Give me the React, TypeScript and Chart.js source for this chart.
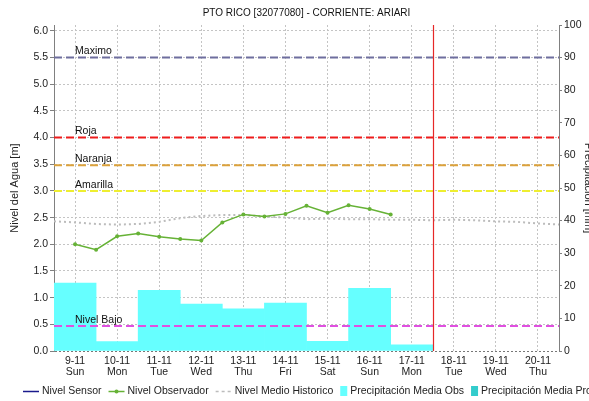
import React, { useEffect, useRef } from 'react';
import { Chart, registerables } from 'chart.js';

Chart.register(...registerables);

const TITLE = 'PTO RICO [32077080] - CORRIENTE: ARIARI';
const Y_TITLE = 'Nivel del Agua [m]';
const Y2_TITLE = 'Precipitación [mm]';

const DAYS = ['9-11', '10-11', '11-11', '12-11', '13-11', '14-11', '15-11', '16-11', '17-11', '18-11', '19-11', '20-11'];
const WEEKDAYS = ['Sun', 'Mon', 'Tue', 'Wed', 'Thu', 'Fri', 'Sat', 'Sun', 'Mon', 'Tue', 'Wed', 'Thu'];

// Precipitación Media Obs [mm] per day
const PRECIP_OBS = [20.8, 2.9, 18.6, 14.4, 12.9, 14.7, 3.0, 19.2, 1.9, null, null, null];

// Nivel Observador (two readings a day), x in days from start of 9-11
const OBS_X = [0.5, 1.0, 1.5, 2.0, 2.5, 3.0, 3.5, 4.0, 4.5, 5.0, 5.5, 6.0, 6.5, 7.0, 7.5, 8.0];
const OBS_LEVEL = [2.0, 1.9, 2.15, 2.2, 2.14, 2.1, 2.07, 2.41, 2.56, 2.52, 2.57, 2.72, 2.59, 2.73, 2.66, 2.56];

// Nivel Medio Historico
const HIST_X = [0, 0.5, 1, 1.5, 2, 2.5, 3, 3.5, 4, 4.5, 5, 5.5, 6, 6.5, 7, 7.5, 8, 8.5, 9, 9.5, 10, 10.5, 11, 11.5, 12];
const HIST_LEVEL = [2.43, 2.41, 2.38, 2.37, 2.38, 2.42, 2.49, 2.53, 2.55, 2.55, 2.52, 2.5, 2.47, 2.48, 2.47, 2.47, 2.46, 2.46, 2.45, 2.46, 2.45, 2.43, 2.42, 2.39, 2.37];

// Umbrales
const THRESHOLD_NAMES = ['Maximo', 'Roja', 'Naranja', 'Amarilla', 'Nivel Bajo'];
const THRESHOLD_VALUES = [5.5, 4.0, 3.48, 3.0, 0.47];
const THRESHOLD_COLORS = ['#6e6e9e', '#ee1c1c', '#dca23c', '#eeee30', '#e050e0'];

const TODAY_X = 9;
const LABEL_X = 0.5;

const X_RANGE = [0, 12];
const Y_RANGE = [0, 6.11];
const Y2_RANGE = [0, 100];

const FONT = "'Liberation Sans', Arial, sans-serif";
const GREEN = '#66b236';
const CYAN = '#66ffff';
const TEAL = '#33cccc';
const HIST_GRAY = '#bcbcbc';
const SENSOR_BLUE = '#1a1a8c';
const GRID = '#c4c4c4';
const AXIS = '#808080';

const LEGEND_ITEMS = [
  { label: 'Nivel Sensor', kind: 'line', color: SENSOR_BLUE },
  { label: 'Nivel Observador', kind: 'marker', color: GREEN },
  { label: 'Nivel Medio Historico', kind: 'dots', color: HIST_GRAY },
  { label: 'Precipitación Media Obs', kind: 'box', color: CYAN },
  { label: 'Precipitación Media Pro', kind: 'box', color: TEAL },
];

const overlayPlugin = {
  id: 'overlay',
  afterDatasetsDraw(chart: any) {
    const { ctx, chartArea, scales } = chart;
    const x2 = scales.x2;
    const y = scales.y;
    ctx.save();
    ctx.setLineDash([]);
    // today marker
    const tx = Math.round(x2.getPixelForValue(TODAY_X)) + 0.5;
    ctx.strokeStyle = 'rgb(230, 40, 40)';
    ctx.lineWidth = 1.2;
    ctx.beginPath();
    ctx.moveTo(tx, chartArea.top);
    ctx.lineTo(tx, chartArea.bottom);
    ctx.stroke();
    // threshold labels
    ctx.fillStyle = '#111';
    ctx.font = `10.5px ${FONT}`;
    ctx.textAlign = 'left';
    ctx.textBaseline = 'bottom';
    THRESHOLD_NAMES.forEach((name, i) => {
      const py = y.getPixelForValue(THRESHOLD_VALUES[i]);
      ctx.fillText(name, x2.getPixelForValue(LABEL_X), py - 1);
    });
    ctx.restore();
  },
  afterDraw(chart: any) {
    const { ctx } = chart;
    ctx.save();
    ctx.font = `10.5px ${FONT}`;
    ctx.textBaseline = 'middle';
    ctx.textAlign = 'left';
    const cy = 391;
    let x = 23;
    LEGEND_ITEMS.forEach((it) => {
      if (it.kind === 'box') {
        ctx.fillStyle = it.color;
        ctx.fillRect(x, cy - 5, 7, 10);
        x += 10;
      } else {
        ctx.strokeStyle = it.color;
        ctx.lineWidth = 1.5;
        if (it.kind === 'dots') ctx.setLineDash([3, 3]);
        ctx.beginPath();
        ctx.moveTo(x, cy + 0.5);
        ctx.lineTo(x + 16, cy + 0.5);
        ctx.stroke();
        ctx.setLineDash([]);
        if (it.kind === 'marker') {
          ctx.fillStyle = it.color;
          ctx.beginPath();
          ctx.arc(x + 8, cy + 0.5, 2, 0, Math.PI * 2);
          ctx.fill();
        }
        x += 19;
      }
      ctx.fillStyle = '#222';
      ctx.fillText(it.label, x, cy);
      x += ctx.measureText(it.label).width + 7;
    });
    ctx.restore();
  },
};

export default function App() {
  const ref = useRef<HTMLCanvasElement>(null);

  useEffect(() => {
    document.body.style.margin = '0';
    const canvas = ref.current;
    if (!canvas) return;
    Chart.defaults.font.family = FONT;
    Chart.defaults.color = '#222';

    const thresholdSets = THRESHOLD_NAMES.map((name, i) => ({
      type: 'line' as const,
      label: name,
      xAxisID: 'x2',
      yAxisID: 'y',
      data: [
        { x: X_RANGE[0], y: THRESHOLD_VALUES[i] },
        { x: X_RANGE[1], y: THRESHOLD_VALUES[i] },
      ],
      borderColor: THRESHOLD_COLORS[i],
      borderWidth: 2,
      borderDash: [8, 4],
      pointRadius: 0,
      order: 4,
    }));

    const chart = new Chart(canvas, {
      type: 'bar',
      data: {
        labels: DAYS.map((d, i) => [d, WEEKDAYS[i]]),
        datasets: [
          {
            type: 'line',
            label: 'Nivel Sensor',
            xAxisID: 'x2',
            yAxisID: 'y',
            data: [],
            borderColor: SENSOR_BLUE,
            order: 0,
          },
          {
            type: 'line',
            label: 'Nivel Observador',
            xAxisID: 'x2',
            yAxisID: 'y',
            data: OBS_X.map((x, i) => ({ x, y: OBS_LEVEL[i] })),
            borderColor: GREEN,
            backgroundColor: GREEN,
            borderWidth: 1.5,
            pointRadius: 2,
            pointBorderWidth: 0,
            tension: 0,
            order: 1,
          },
          {
            type: 'line',
            label: 'Nivel Medio Historico',
            xAxisID: 'x2',
            yAxisID: 'y',
            data: HIST_X.map((x, i) => ({ x, y: HIST_LEVEL[i] })),
            borderColor: HIST_GRAY,
            borderWidth: 2,
            borderDash: [2, 3],
            pointRadius: 0,
            tension: 0,
            order: 5,
          },
          ...thresholdSets,
          {
            type: 'bar',
            label: 'Precipitación Media Obs',
            xAxisID: 'x',
            yAxisID: 'y2',
            data: PRECIP_OBS,
            backgroundColor: CYAN,
            borderWidth: 0,
            grouped: false,
            barPercentage: 1,
            categoryPercentage: 1,
            order: 10,
          },
        ] as any,
      },
      options: {
        responsive: false,
        animation: false,
        layout: { padding: { left: 0, right: 0, top: 0, bottom: 22 } },
        plugins: {
          legend: { display: false },
          tooltip: { enabled: false },
          title: {
            display: true,
            text: TITLE,
            fullSize: false,
            color: '#111',
            font: { size: 10, weight: 'normal', family: FONT, lineHeight: 1.2 },
            padding: { top: 7, bottom: 6 },
          },
        },
        scales: {
          x: {
            type: 'category',
            position: 'bottom',
            offset: true,
            grid: { offset: false, color: GRID, drawTicks: false },
            border: { display: false, dash: [2, 2] },
            ticks: { color: '#222', font: { size: 10.5, lineHeight: 1.0 }, padding: 5, maxRotation: 0, autoSkip: false },
            afterFit: (s: any) => { s.height = 28; },
          },
          x2: {
            type: 'linear',
            position: 'bottom',
            min: X_RANGE[0],
            max: X_RANGE[1],
            offset: false,
            grid: { offset: false, display: false },
            display: false,
          },
          y: {
            type: 'linear',
            position: 'left',
            min: Y_RANGE[0],
            max: Y_RANGE[1],
            grid: {
              color: (c: any) => (c.tick && c.tick.value === 0 ? '#777' : GRID),
              tickColor: AXIS,
              tickLength: 4,
            },
            border: { color: AXIS, dash: [2, 2] },
            ticks: {
              stepSize: 0.5,
              includeBounds: false,
              padding: 2,
              color: '#222',
              font: { size: 10.5 },
              callback: (v: any) => Number(v).toFixed(1),
            },
            title: { display: true, text: Y_TITLE, color: '#222', font: { size: 11 }, padding: { top: 8, bottom: 0 } },
            afterFit: (s: any) => { s.width = 54; },
          },
          y2: {
            type: 'linear',
            position: 'right',
            min: Y2_RANGE[0],
            max: Y2_RANGE[1],
            grid: { drawOnChartArea: false, tickColor: AXIS, tickLength: 3 },
            border: { color: AXIS },
            ticks: { stepSize: 10, padding: 2, color: '#222', font: { size: 10.5 } },
            title: { display: true, text: Y2_TITLE, color: '#222', font: { size: 11 }, padding: { top: -6, bottom: 0 } },
            afterFit: (s: any) => { s.width = 30; },
          },
        },
      } as any,
      plugins: [overlayPlugin],
    });
    return () => chart.destroy();
  }, []);

  return (
    <div style={{ width: 589, height: 401, background: '#fff' }}>
      <canvas ref={ref} width={589} height={401} style={{ display: 'block' }} />
    </div>
  );
}
